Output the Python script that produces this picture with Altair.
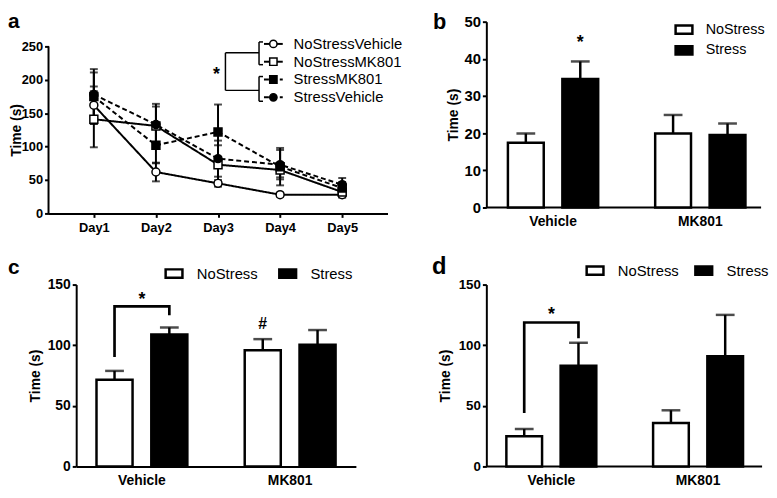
import altair as alt
import pandas as pd

FONT = "Liberation Sans"

# ---------------- panel a data ----------------
days = ["Day1", "Day2", "Day3", "Day4", "Day5"]
series_a = ["NoStressVehicle", "NoStressMK801", "StressMK801", "StressVehicle"]
nsv_mean = [162, 62, 45, 28, 28]
nsv_err = [28, 14, 5, 3, 4]
nsm_mean = [141, 131, 73, 65, 32]
nsm_err = [42, 33, 29, 11, 8]
sm_mean = [175, 102, 122, 70, 38]
sm_err = [41, 27, 41, 28, 9]
sv_mean = [178, 133, 82, 73, 43]
sv_err = [33, 27, 27, 22, 10]
a_ticks = [0, 50, 100, 150, 200, 250]

# ---------------- panels b, c, d data ----------------
groups = ["Vehicle", "MK801"]
conds = ["NoStress", "Stress"]
b_nostress = [17.4, 19.9]
b_nostress_err = [2.5, 5.0]
b_stress = [34.6, 19.5]
b_stress_err = [4.7, 3.1]
b_ticks = [0, 10, 20, 30, 40, 50]
c_nostress = [71.5, 95.9]
c_nostress_err = [7.3, 9.1]
c_stress = [108.8, 100.4]
c_stress_err = [5.8, 12.1]
c_ticks = [0, 50, 100, 150]
c_bracket = [90.3, 132, 132, 124.6]
d_nostress = [24.9, 35.9]
d_nostress_err = [5.9, 10.4]
d_stress = [83.0, 90.8]
d_stress_err = [19.0, 34.2]
d_ticks = [0, 50, 100, 150]
d_bracket = [44, 118.7, 118.7, 105.8]


def yaxis(ticks, label_size, title_x, title_y, **kw):
    return alt.Axis(values=ticks, grid=False, tickSize=4, tickWidth=2, tickColor="black",
                    domainColor="black", domainWidth=2, labelFont=FONT, labelFontWeight="bold",
                    labelFontSize=label_size, labelColor="black", labelPadding=2,
                    title="Time (s)", titleFont=FONT, titleFontSize=14, titleFontWeight="bold",
                    titleColor="black", titleX=title_x, titleY=title_y, titleBaseline="middle", **kw)


# ======================= panel a =======================
A_W, A_H, A_TOP = 343, 194, 287
rows = []
for name, m, e in [(series_a[0], nsv_mean, nsv_err), (series_a[1], nsm_mean, nsm_err),
                   (series_a[2], sm_mean, sm_err), (series_a[3], sv_mean, sv_err)]:
    for d, mv, ev in zip(days, m, e):
        rows.append({"day": d, "series": name, "mean": mv, "lo": mv - ev, "hi": mv + ev})
df_a = pd.DataFrame(rows)

ya_scale = alt.Scale(domain=[0, A_TOP], nice=False)
ya_axis = yaxis(a_ticks, 13, -32, A_H - 125 * A_H / A_TOP, domain=False)
xa = alt.X("day:N", sort=days, scale=alt.Scale(type="point", padding=0.73),
           axis=alt.Axis(title=None, labelAngle=0, tickSize=4, tickWidth=2, tickColor="black",
                         domainColor="black", domainWidth=2, labelFont=FONT, labelFontWeight="bold",
                         labelFontSize=13, labelColor="black", labelPadding=4, grid=False))


def ya(field):
    return alt.Y(field, scale=ya_scale, axis=ya_axis)


base_a = alt.Chart(df_a)
a_axisline = alt.Chart(pd.DataFrame({"k": [0]})).mark_rule(color="black", strokeWidth=2).encode(
    x=alt.value(0), y=alt.Y(datum=0, scale=ya_scale, axis=ya_axis), y2=alt.Y2(datum=250))
a_lines = base_a.mark_line(color="black", strokeWidth=2).encode(
    x=xa, y=ya("mean:Q"), detail="series:N",
    strokeDash=alt.StrokeDash("series:N", scale=alt.Scale(domain=series_a, range=[[1, 0], [1, 0], [5, 3], [5, 3]]), legend=None))
a_err = base_a.mark_rule(color="black", strokeWidth=2).encode(x=xa, y=ya("lo:Q"), y2="hi:Q")
a_cap_hi = base_a.mark_tick(color="black", thickness=2, size=8).encode(x=xa, y=ya("hi:Q"))
a_cap_lo = base_a.mark_tick(color="black", thickness=2, size=8).encode(x=xa, y=ya("lo:Q"))
a_points = base_a.mark_point(filled=True, stroke="black", strokeWidth=1.5, size=65, opacity=1).encode(
    x=xa, y=ya("mean:Q"),
    shape=alt.Shape("series:N", scale=alt.Scale(domain=series_a, range=["circle", "square", "square", "circle"]), legend=None),
    fill=alt.Fill("series:N", scale=alt.Scale(domain=series_a, range=["white", "white", "black", "black"]), legend=None))

a_layers = [a_axisline, a_lines, a_err, a_cap_hi, a_cap_lo, a_points]

# custom legend with significance bracket (positions relative to panel a's plot origin)
Y0 = 18.5
one = pd.DataFrame({"k": [0]})
for i, name in enumerate(series_a):
    yy = 41 + 18 * i - Y0
    stress = name.startswith("Stress")
    rule_kw = {"strokeDash": [5, 3]} if stress else {}
    a_layers.append(alt.Chart(one).mark_rule(color="black", strokeWidth=2, **rule_kw).encode(
        x=alt.value(218), x2=alt.value(237), y=alt.value(yy)))
    a_layers.append(alt.Chart(one).mark_point(
        shape="square" if "MK801" in name else "circle", filled=True,
        fill="black" if stress else "white", stroke="black", strokeWidth=1.5, size=55, opacity=1).encode(
        x=alt.value(227.5), y=alt.value(yy)))
    a_layers.append(alt.Chart(one).mark_text(
        text=name, align="left", baseline="middle", font=FONT, fontSize=15, color="black").encode(
        x=alt.value(248), y=alt.value(yy)))

for (x1, x2, y1, y2) in [(179, 179, 50, 88), (179, 213, 50, 50), (179, 213, 88, 88),
                         (213, 213, 39, 62), (213, 213, 74, 99), (213, 217, 39, 39),
                         (213, 217, 62, 62), (213, 217, 74, 74), (213, 217, 99, 99)]:
    a_layers.append(alt.Chart(one).mark_rule(color="black", strokeWidth=1.5).encode(
        x=alt.value(x1), x2=alt.value(x2), y=alt.value(y1 - Y0), y2=alt.value(y2 - Y0)))
a_layers.append(alt.Chart(one).mark_text(text="*", align="center", baseline="alphabetic", dy=7,
                                         font=FONT, fontSize=18, fontWeight="bold", color="black").encode(
    x=alt.value(170), y=alt.value(71 - Y0)))
a_layers.append(alt.Chart(one).mark_text(text="a", align="left", baseline="alphabetic", font=FONT,
                                         fontSize=21, fontWeight="bold", color="black").encode(
    x=alt.value(-41), y=alt.value(6.5)))

panel_a = alt.layer(*a_layers).properties(width=A_W, height=A_H)


# ======================= bar panels =======================
def bar_panel(ns, ns_err, s, s_err, width, height, ymax, ticks, label_size, title_x,
              po, legend, letter, letter_x, letter_size, x_range, axis_offset=0,
              stars=(), bracket=None, manual_axis=False):
    df = pd.DataFrame({"group": groups * 2, "cond": [conds[0]] * 2 + [conds[1]] * 2,
                       "mean": ns + s, "err": ns_err + s_err})
    df["hi"] = df["mean"] + df["err"]
    xenc = alt.X("group:N", sort=groups,
                 scale=alt.Scale(paddingInner=0.35, paddingOuter=po, range=x_range),
                 axis=alt.Axis(title=None, labelAngle=0, ticks=False, tickSize=0, domain=not manual_axis,
                               domainColor="black", domainWidth=2, labelFont=FONT, labelFontWeight="bold",
                               labelFontSize=14, labelColor="black", labelPadding=7, grid=False))
    xo = alt.XOffset("cond:N", sort=conds, scale=alt.Scale(paddingInner=0.342, paddingOuter=0.05))
    ysc = alt.Scale(domain=[0, ymax], nice=False)
    ax_kw = {"offset": axis_offset} if axis_offset else {}
    yax = yaxis(ticks, label_size, title_x, height / 2, **ax_kw)

    def yenc(f):
        return alt.Y(f, scale=ysc, axis=yax)

    base = alt.Chart(df)
    layers = []
    if manual_axis:
        layers.append(alt.Chart(pd.DataFrame({"k": [0]})).mark_rule(color="black", strokeWidth=2).encode(
            x=alt.value(0), x2=alt.value(width), y=alt.Y(datum=0, scale=ysc, axis=yax)))
    bars = base.mark_bar(stroke="black", strokeWidth=2.5).encode(
        x=xenc, xOffset=xo, y=yenc("mean:Q"),
        fill=alt.Fill("cond:N", scale=alt.Scale(domain=conds, range=["white", "black"]), legend=legend))
    err = base.mark_rule(color="black", strokeWidth=2.5).encode(x=xenc, xOffset=xo, y=yenc("mean:Q"), y2="hi:Q")
    cap = base.mark_tick(color="black", thickness=2.5, size=19).encode(x=xenc, xOffset=xo, y=yenc("hi:Q"))
    layers += [bars, err, cap]
    if bracket is not None:
        bdf = pd.DataFrame({"group": ["Vehicle"] * 4, "cond": [conds[0], conds[0], conds[1], conds[1]],
                            "v": bracket, "o": [0, 1, 2, 3]})
        layers.append(alt.Chart(bdf).mark_line(color="black", strokeWidth=2.7).encode(
            x=xenc, xOffset=xo, y=yenc("v:Q"), order="o:Q"))
    for (sym, grp, cnd, val, fs, dyf) in stars:
        sdf = pd.DataFrame({"group": [grp], "cond": [cnd], "v": [val], "t": [sym]})
        enc = {"x": xenc, "y": yenc("v:Q"), "text": "t:N"}
        if cnd is not None:
            enc["xOffset"] = xo
        layers.append(alt.Chart(sdf).mark_text(align="center", baseline="alphabetic", dy=dyf * fs,
                                               font=FONT, fontSize=fs, fontWeight="bold",
                                               color="black").encode(**enc))
    layers.append(alt.Chart(pd.DataFrame({"k": [0]})).mark_text(
        text=letter, align="left", baseline="alphabetic", font=FONT, fontSize=letter_size,
        fontWeight="bold", color="black").encode(x=alt.value(letter_x[0]), y=alt.value(letter_x[1])))
    return alt.layer(*layers).properties(width=width, height=height)


def leg(x, y, direction, col_pad=16, fs=15, off=13):
    return alt.Legend(title=None, orient="none", legendX=x, legendY=y, direction=direction,
                      symbolType="M-1,-0.5H1V0.5H-1Z", symbolSize=289, symbolStrokeColor="black",
                      symbolStrokeWidth=2.5, labelFont=FONT, labelFontSize=fs, labelColor="black",
                      labelOffset=off, rowPadding=1, columnPadding=col_pad, padding=0)


panel_b = bar_panel(b_nostress, b_nostress_err, b_stress, b_stress_err, 278, 188, 50, b_ticks, 15, -33,
                    0.128, leg(190, -2, "vertical", fs=14.5, off=12), "b", (-54, 7.5), 22,
                    x_range=[0, 284], manual_axis=True,
                    stars=[("*", "Vehicle", "Stress", 44.8, 18, 0.42)])
panel_c = bar_panel(c_nostress, c_nostress_err, c_stress, c_stress_err, 311, 184, 150, c_ticks, 14, -41,
                    0.1185, leg(117, -21.5, "horizontal", 16), "c", (-41, -11), 21,
                    x_range=[28, 311], axis_offset=-28,
                    stars=[("*", "Vehicle", None, 140, 18, 0.45), ("#", "MK801", "NoStress", 118, 16, 0.36)],
                    bracket=c_bracket)
panel_d = bar_panel(d_nostress, d_nostress_err, d_stress, d_stress_err, 279, 184, 150, d_ticks, 13.5, -41,
                    0.118, leg(100, -24.5, "horizontal", 11), "d", (-55, -11), 24,
                    x_range=[0, 280], manual_axis=True,
                    stars=[("*", "Vehicle", None, 127, 18, 0.45)], bracket=d_bracket)

chart = alt.concat(panel_a, panel_b, panel_c, panel_d, columns=2, bounds="flush",
                   spacing={"row": 72, "column": 100}).resolve_scale(
    x="independent", y="independent", fill="independent", shape="independent",
    strokeDash="independent", xOffset="independent").resolve_legend(fill="independent").configure(
    padding=0).configure_view(stroke=None)

chart.save("out.html", embed_options={"renderer": "svg", "actions": False})
